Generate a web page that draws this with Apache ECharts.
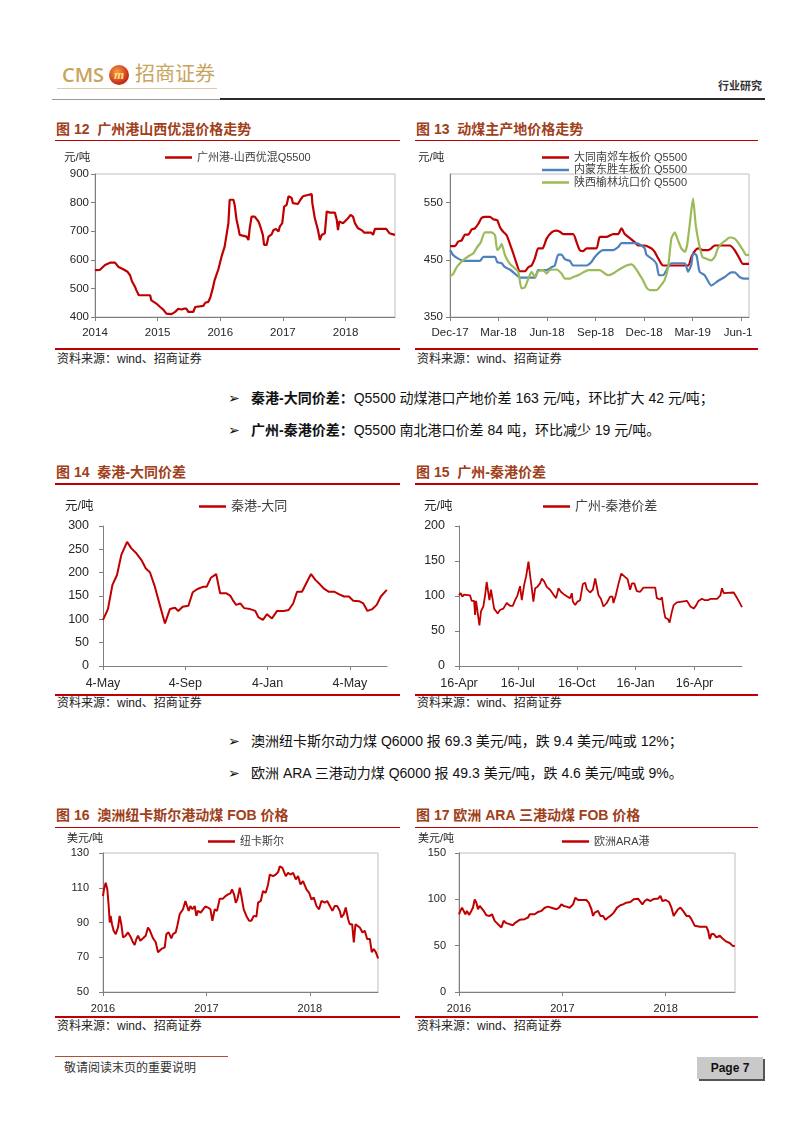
<!DOCTYPE html>
<html><head><meta charset="utf-8">
<script src="https://cdn.jsdelivr.net/npm/echarts@6/dist/echarts.min.js"></script>
<style>
html,body{margin:0;padding:0;background:#fff;}
body{width:802px;height:1133px;position:relative;overflow:hidden;font-family:"Liberation Sans","Noto Sans CJK SC",sans-serif;color:#222;}
.abs{position:absolute;white-space:nowrap;}
.title{position:absolute;font-size:14px;font-weight:bold;color:#A0401A;line-height:18px;white-space:nowrap;}
.rule{position:absolute;height:1.5px;background:#C00000;}
.src{position:absolute;font-size:12px;color:#222;line-height:14px;white-space:nowrap;}
.chart{position:absolute;}
.bullet{position:absolute;font-size:14px;line-height:18px;white-space:nowrap;color:#111;}
.arrow{position:absolute;font-size:14px;line-height:18px;font-family:"DejaVu Sans";color:#111;}
</style></head><body>

<!-- header -->
<div class="abs" style="left:62px;top:62px;font-size:20px;line-height:26px;color:#C9A45C;font-family:'Open Sans';font-weight:600;">CMS</div>
<div class="abs" style="left:109px;top:65px;width:20px;height:20px;border-radius:50%;background:radial-gradient(circle at 40% 35%,#F7A040,#C8301A 65%,#8A1A10);text-align:center;line-height:19px;font-size:13px;font-style:italic;font-weight:bold;color:#FFE08A;font-family:'Liberation Serif';">m</div>
<div class="abs" style="left:135px;top:62px;font-size:20px;line-height:25px;color:#C9A45C;">招商证券</div>
<div class="abs" style="left:57px;top:88px;width:160px;height:1px;background:#DCCBA4;"></div>
<div class="abs" style="left:718px;top:78px;font-size:11px;line-height:16px;color:#333;font-weight:bold;">行业研究</div>
<div class="abs" style="left:52px;top:99px;width:168px;height:1px;background:#9A9A9A;"></div>
<div class="abs" style="left:220px;top:98px;width:545px;height:2px;background:#2A2A2A;"></div>

<!-- chart 12 / 13 frame -->
<div class="title" style="left:56px;top:120px;">图 12&nbsp; 广州港山西优混价格走势</div>
<div class="rule" style="left:55px;top:139.5px;width:345px;"></div>
<div class="title" style="left:416px;top:120px;">图 13&nbsp; 动煤主产地价格走势</div>
<div class="rule" style="left:415px;top:139.5px;width:343px;"></div>
<div id="c12" class="chart" style="left:40px;top:145px;width:370px;height:200px;"></div>
<div class="chart" style="left:410px;top:145px;width:343px;height:200px;overflow:hidden;">
  <div id="c13" style="position:absolute;left:0;top:0;width:380px;height:200px;"></div>
</div>
<div class="rule" style="left:55px;top:348px;width:345px;"></div>
<div class="rule" style="left:415px;top:348px;width:343px;"></div>
<div class="src" style="left:57px;top:352px;">资料来源：wind、招商证券</div>
<div class="src" style="left:417px;top:352px;">资料来源：wind、招商证券</div>

<!-- bullets 1 -->
<div class="arrow" style="left:228px;top:389px;">➢</div>
<div class="bullet" style="left:251px;top:389px;"><b>秦港-大同价差：</b>Q5500 动煤港口产地价差 163 元/吨，环比扩大 42 元/吨；</div>
<div class="arrow" style="left:228px;top:421px;">➢</div>
<div class="bullet" style="left:251px;top:421px;"><b>广州-秦港价差：</b>Q5500 南北港口价差 84 吨，环比减少 19 元/吨。</div>

<!-- chart 14 / 15 -->
<div class="title" style="left:56px;top:463px;">图 14&nbsp; 秦港-大同价差</div>
<div class="rule" style="left:55px;top:483px;width:345px;"></div>
<div class="title" style="left:416px;top:463px;">图 15&nbsp; 广州-秦港价差</div>
<div class="rule" style="left:415px;top:483px;width:343px;"></div>
<div id="c14" class="chart" style="left:40px;top:490px;width:370px;height:203px;"></div>
<div id="c15" class="chart" style="left:410px;top:490px;width:392px;height:203px;"></div>
<div class="rule" style="left:55px;top:694px;width:345px;"></div>
<div class="rule" style="left:415px;top:694px;width:343px;"></div>
<div class="src" style="left:57px;top:696px;">资料来源：wind、招商证券</div>
<div class="src" style="left:417px;top:696px;">资料来源：wind、招商证券</div>

<!-- bullets 2 -->
<div class="arrow" style="left:228px;top:732px;">➢</div>
<div class="bullet" style="left:251px;top:732px;">澳洲纽卡斯尔动力煤 Q6000 报 69.3 美元/吨，跌 9.4 美元/吨或 12%；</div>
<div class="arrow" style="left:228px;top:764px;">➢</div>
<div class="bullet" style="left:251px;top:764px;">欧洲 ARA 三港动力煤 Q6000 报 49.3 美元/吨，跌 4.6 美元/吨或 9%。</div>

<!-- chart 16 / 17 -->
<div class="title" style="left:56px;top:806px;">图 16&nbsp; 澳洲纽卡斯尔港动煤 FOB 价格</div>
<div class="rule" style="left:55px;top:826.5px;width:345px;"></div>
<div class="title" style="left:416px;top:806px;">图 17 欧洲 ARA 三港动煤 FOB 价格</div>
<div class="rule" style="left:415px;top:826.5px;width:343px;"></div>
<div id="c16" class="chart" style="left:40px;top:830px;width:370px;height:184px;"></div>
<div id="c17" class="chart" style="left:410px;top:830px;width:392px;height:184px;"></div>
<div class="rule" style="left:55px;top:1016px;width:345px;"></div>
<div class="rule" style="left:415px;top:1016px;width:343px;"></div>
<div class="src" style="left:57px;top:1019px;">资料来源：wind、招商证券</div>
<div class="src" style="left:417px;top:1019px;">资料来源：wind、招商证券</div>

<!-- footer -->
<div class="abs" style="left:55px;top:1056px;width:173px;height:1px;background:#B0503A;"></div>
<div class="abs" style="left:64px;top:1061px;font-size:12px;line-height:14px;color:#333;">敬请阅读末页的重要说明</div>
<div class="abs" style="left:697px;top:1057px;width:66px;height:22px;background:#C9C9C9;box-shadow:2px 2px 0 #555;text-align:center;line-height:22px;font-size:12px;font-weight:bold;color:#111;">Page 7</div>

<script>
// ---------- DATA ----------
// Chart 12: 广州港-山西优混Q5500 (x = decimal year)
const c12Name = '广州港-山西优混Q5500';
const c12Ticks = ['2014','2015','2016','2017','2018'];
const c12X = [2014.00,2014.08,2014.16,2014.24,2014.32,2014.37,2014.45,2014.52,2014.56,2014.59,2014.64,2014.66,2014.70,2014.88,2014.90,2014.98,2015.04,2015.09,2015.14,2015.22,2015.28,2015.33,2015.38,2015.42,2015.46,2015.49,2015.57,2015.60,2015.73,2015.76,2015.81,2015.84,2015.88,2015.91,2015.97,2016.02,2016.07,2016.10,2016.13,2016.15,2016.21,2016.23,2016.26,2016.29,2016.31,2016.42,2016.45,2016.47,2016.50,2016.55,2016.61,2016.64,2016.68,2016.70,2016.74,2016.77,2016.82,2016.85,2016.89,2016.93,2016.95,2016.99,2017.02,2017.06,2017.09,2017.14,2017.16,2017.24,2017.28,2017.32,2017.35,2017.46,2017.47,2017.51,2017.56,2017.59,2017.62,2017.67,2017.70,2017.72,2017.75,2017.83,2017.86,2017.88,2017.90,2017.96,2017.99,2018.04,2018.08,2018.12,2018.15,2018.20,2018.27,2018.30,2018.41,2018.44,2018.47,2018.65,2018.70,2018.76,2018.79];
const c12Y = [564,565,582,590,590,576,567,558,546,525,505,494,476,476,458,447,435,426,412,410,418,429,426,429,429,418,418,435,439,450,453,467,500,529,567,611,646,687,728,810,810,792,740,710,687,681,669,710,751,751,734,716,687,652,652,681,689,704,708,699,716,728,786,792,822,816,798,795,810,822,827,830,798,745,704,669,687,693,769,775,765,765,740,704,734,728,734,745,757,751,728,710,702,695,695,687,708,708,693,689,687];

// Chart 13: three origin prices (x = months since Dec-17)
const c13Ticks = ['Dec-17','Mar-18','Jun-18','Sep-18','Dec-18','Mar-19','Jun-19'];
const c13Names = ['大同南郊车板价 Q5500','内蒙东胜车板价 Q5500','陕西榆林坑口价 Q5500'];
const c13RedX = [0,0.31,0.51,0.72,0.93,1.13,1.34,1.54,1.75,1.95,2.16,2.47,2.67,2.92,3.09,3.29,3.50,3.70,3.91,4.12,4.32,4.63,4.84,5.04,5.25,5.45,5.72,5.97,6.28,6.58,6.79,6.99,7.61,7.82,8.02,8.23,8.44,9.05,9.26,9.67,10.08,10.39,10.60,10.80,11.11,11.42,11.63,12.04,12.24,12.45,12.65,12.86,13.17,14.71,14.92,15.12,15.33,15.64,15.95,16.15,16.36,17.28,17.59,17.90,18.10,18.48];
const c13RedY = [474,474,482,484,494,494,503,505,513,523,525,525,521,519,507,499,493,478,461,443,430,430,437,440,453,470,470,487,498,501,499,495,495,481,467,465,470,470,490,490,495,495,505,495,488,481,475,475,473,470,464,453,440,440,455,465,470,467,467,470,475,475,467,452,443,443];
const c13BlueX = [0,0.21,0.51,0.82,1.85,2.06,2.78,2.92,3.19,3.40,3.70,4.12,4.32,5.25,5.45,5.97,6.28,6.48,6.69,6.89,7.10,7.41,7.61,8.44,8.74,8.95,9.26,9.47,10.08,10.39,10.60,11.52,11.83,12.04,12.14,12.55,12.76,12.92,13.17,13.48,13.68,14.51,14.71,14.92,15.02,15.23,15.43,15.74,16.15,16.56,16.98,17.39,17.59,17.90,18.21,18.48];
const c13BlueY = [467,458,452,448,448,455,455,446,444,437,433,423,419,419,432,432,437,440,459,459,451,448,440,440,446,455,464,467,467,472,479,479,475,470,459,450,443,423,423,437,444,444,429,442,461,458,429,423,405,413,420,428,428,420,417,417];
const c13GreenX = [0,0.21,0.41,0.62,0.93,1.23,1.44,1.65,1.89,2.16,2.57,2.78,2.92,3.09,3.19,3.40,3.70,4.01,4.22,4.42,4.63,4.84,5.04,5.25,5.45,5.76,5.97,6.17,6.58,6.89,7.10,7.41,7.61,7.92,8.23,8.54,9.26,9.57,9.77,10.08,10.39,10.70,10.91,11.21,11.42,11.63,11.93,12.14,12.35,12.76,13.00,13.27,13.48,13.68,13.89,14.09,14.30,14.51,14.65,14.81,15.02,15.19,15.39,15.60,15.84,16.15,16.36,16.56,16.77,17.04,17.28,17.59,17.86,18.11,18.31,18.48];
const c13GreenY = [421,426,437,444,452,458,461,471,480,498,498,493,467,472,478,458,443,435,429,400,402,417,429,420,430,432,426,432,433,426,417,417,420,423,428,432,432,426,423,426,432,437,440,442,437,428,414,402,397,397,404,415,437,487,498,484,470,464,475,510,557,510,478,455,452,449,455,470,478,484,489,487,478,467,458,459];

// Chart 14: 秦港-大同 (x = months since 4-May-2018)
const c14Name = '秦港-大同';
const c14Ticks = ['4-May','4-Sep','4-Jan','4-May'];
const c14X = [0,0.24,0.46,0.68,0.89,1.17,1.38,1.63,1.87,2.08,2.28,2.52,2.76,3.01,3.25,3.50,3.66,3.87,4.15,4.36,4.59,4.88,5.04,5.24,5.50,5.69,5.98,6.18,6.34,6.47,6.67,6.86,7.15,7.40,7.56,7.77,7.97,8.21,8.46,8.78,9.02,9.24,9.43,9.67,9.92,10.11,10.33,10.54,10.73,10.98,11.25,11.46,11.71,11.95,12.16,12.44,12.65,12.85,13.09,13.30,13.50,13.79];
const c14Y = [99,122,174,195,238,266,252,241,227,209,201,170,131,91,122,125,118,127,129,158,165,170,170,189,197,156,156,151,139,131,134,124,122,118,104,99,111,102,118,118,120,134,159,159,181,197,184,175,166,159,159,154,149,149,140,139,134,118,122,131,149,163];

// Chart 15: 广州-秦港价差 (x = months since 16-Apr-2018)
const c15Name = '广州-秦港价差';
const c15Ticks = ['16-Apr','16-Jul','16-Oct','16-Jan','16-Apr'];
const c15X = [0,0.09,0.17,0.26,0.36,0.56,0.65,0.77,0.82,0.87,0.95,1.04,1.12,1.24,1.33,1.41,1.50,1.55,1.63,1.72,1.79,1.89,1.97,2.09,2.26,2.43,2.60,2.74,2.86,2.98,3.11,3.20,3.32,3.42,3.54,3.62,3.71,3.79,3.88,3.99,4.13,4.22,4.34,4.47,4.64,4.81,4.95,5.07,5.19,5.36,5.53,5.66,5.75,5.80,5.92,6.04,6.17,6.31,6.43,6.51,6.68,6.82,6.94,7.02,7.11,7.23,7.36,7.53,7.70,7.82,7.87,7.99,8.13,8.27,8.47,8.59,8.72,8.81,8.93,9.06,9.23,9.40,10.00,10.08,10.25,10.34,10.42,10.51,10.65,10.73,10.85,10.94,11.10,11.36,11.62,11.79,11.96,12.09,12.20,12.38,12.52,12.69,12.81,13.15,13.32,13.40,13.49,14.00,14.13,14.25,14.34,14.42];
const c15Y = [101,104,99,102,101,101,93,93,73,93,93,58,78,85,101,120,120,94,109,109,82,81,75,80,82,90,86,86,94,101,114,94,116,128,149,130,111,92,111,113,118,125,121,113,109,102,97,111,106,102,99,97,104,92,87,92,94,117,119,110,105,109,125,126,101,96,85,90,99,99,90,101,118,132,127,124,109,118,118,107,106,112,112,97,95,98,82,69,67,62,78,87,91,92,93,85,82,87,93,96,94,94,96,96,101,111,104,105,99,93,92,84];

// Chart 16: 纽卡斯尔 (x = decimal year)
const c16Name = '纽卡斯尔';
const c16Ticks = ['2016','2017','2018'];
const c16X = [2016.000,2016.010,2016.026,2016.042,2016.055,2016.065,2016.074,2016.087,2016.103,2016.123,2016.145,2016.161,2016.177,2016.194,2016.219,2016.242,2016.265,2016.290,2016.306,2016.323,2016.339,2016.361,2016.387,2016.413,2016.435,2016.452,2016.484,2016.510,2016.532,2016.548,2016.565,2016.581,2016.597,2016.613,2016.635,2016.661,2016.677,2016.703,2016.719,2016.742,2016.758,2016.774,2016.797,2016.813,2016.829,2016.845,2016.865,2016.887,2016.903,2016.919,2016.945,2016.968,2016.990,2017.016,2017.039,2017.058,2017.081,2017.103,2017.129,2017.161,2017.184,2017.210,2017.232,2017.248,2017.268,2017.284,2017.300,2017.323,2017.339,2017.361,2017.387,2017.413,2017.435,2017.458,2017.484,2017.500,2017.526,2017.548,2017.574,2017.597,2017.613,2017.645,2017.671,2017.694,2017.710,2017.735,2017.752,2017.768,2017.790,2017.813,2017.839,2017.865,2017.887,2017.910,2017.935,2017.968,2017.994,2018.016,2018.039,2018.065,2018.090,2018.113,2018.145,2018.168,2018.194,2018.219,2018.242,2018.265,2018.290,2018.306,2018.329,2018.348,2018.371,2018.387,2018.410,2018.426,2018.442,2018.461,2018.484,2018.510,2018.532,2018.555,2018.581,2018.600,2018.619,2018.639,2018.661];
const c16Y = [105.2,109.4,112.9,109,99.5,90,93.8,89,85.2,83.3,87.1,93.8,89,81.4,82.4,84.3,82,78.6,77,80.5,82.4,79.5,80.9,82.4,87.1,85.6,80.9,78.6,72.9,71.9,74.8,73.8,75.7,83.3,84.3,80.9,83.3,84.3,88.1,94.8,95.7,97.6,102.4,99.5,96.7,99.5,97.6,99.5,93.8,96.7,95.7,97.6,99.2,98.6,97.6,91,97.6,96.7,103.7,103.7,105.2,106.2,106.8,109,106.2,101.4,103.3,110,105.2,97.6,93.8,91,91,93.8,93.4,101.4,102.4,108.1,107.1,111.9,117.6,116.7,117.6,119,122.4,121.4,121.8,116.7,118.6,117.6,118.6,114.8,116.7,111.9,113.8,109,107.1,103.3,104.3,99.5,97.6,102.4,101.4,102.4,99.5,96.7,99.5,99.5,96.7,92.9,94.8,98.6,91.9,89,89,78.6,89,89,87.1,84.3,85.2,80.5,80.5,72.9,74.8,72.9,69.3];

// Chart 17: 欧洲ARA港 (x = decimal year)
const c17Name = '欧洲ARA港';
const c17Ticks = ['2016','2017','2018'];
const c17X = [2016.000,2016.013,2016.029,2016.045,2016.061,2016.077,2016.097,2016.119,2016.135,2016.152,2016.168,2016.184,2016.200,2016.216,2016.239,2016.265,2016.297,2016.319,2016.345,2016.377,2016.410,2016.432,2016.458,2016.490,2016.523,2016.539,2016.555,2016.587,2016.635,2016.668,2016.684,2016.700,2016.732,2016.765,2016.797,2016.829,2016.861,2016.894,2016.910,2016.942,2016.968,2016.990,2017.013,2017.039,2017.071,2017.103,2017.126,2017.152,2017.184,2017.232,2017.255,2017.281,2017.297,2017.313,2017.329,2017.345,2017.368,2017.394,2017.416,2017.442,2017.474,2017.497,2017.529,2017.561,2017.587,2017.619,2017.658,2017.690,2017.732,2017.748,2017.774,2017.797,2017.819,2017.852,2017.877,2017.903,2017.926,2017.948,2017.968,2018.000,2018.032,2018.055,2018.077,2018.097,2018.119,2018.142,2018.168,2018.200,2018.226,2018.248,2018.281,2018.329,2018.394,2018.410,2018.426,2018.442,2018.465,2018.490,2018.523,2018.555,2018.587,2018.619,2018.645,2018.668];
const c17Y = [83.9,87.5,91,91,83.9,87.5,83.2,87.5,91,100,96.4,89.3,92.9,94.6,87.5,82.9,82.1,83.9,76.8,73.2,69.6,76.8,74.3,73.2,72.1,74.3,75.7,77.9,78.6,80.4,83.9,82.1,83.9,86.4,87.5,91,92.1,91,92.9,89.3,91,94.6,92.9,92.1,91,94.6,101.8,99.3,99.3,99.3,96.4,89.3,82.1,85.7,83.9,87.5,82.1,82.1,77.9,80.4,82.9,85.7,91,93.6,94.6,96.4,97.1,100,100.7,98.9,94.6,98.2,100,98.2,100,100.7,100.7,103.6,98.2,99.3,97.1,91,82.1,85.7,89.3,91,87.5,82.1,82.1,78.6,71.4,70.4,70.4,66.1,57.1,62.5,62.5,58.9,60.7,57.1,54.3,52.9,50,49.3];

// ---------- BUILD ----------
const FONT = '"Liberation Sans","Noto Sans CJK SC",sans-serif';
const AX = '#7F7F7F';
const LBL = '#262626';
const zip = (xs, ys) => xs.map((x, i) => [x, ys[i]]);

function makeChart(id, c) {
  const chart = echarts.init(document.getElementById(id), null, {renderer: 'canvas'});
  const axisCommon = {
    type: 'value',
    axisLine: {show: true, onZero: false, lineStyle: {color: AX, width: 1}},
    axisTick: {show: true, length: 4, lineStyle: {color: AX}},
    splitLine: {show: false}
  };
  chart.setOption({
    animation: false,
    textStyle: {fontFamily: FONT},
    grid: Object.assign({show: c.border, borderColor: '#BFBFBF', borderWidth: 1, containLabel: false}, c.grid),
    legend: {
      left: c.legend.left, top: c.legend.top, orient: c.legend.orient || 'horizontal',
      padding: 0, itemGap: c.legend.gap || 10, icon: 'rect', itemWidth: 27, itemHeight: 2.5,
      textStyle: {fontSize: c.legend.fontSize, color: '#404040', fontFamily: FONT},
      selectedMode: false
    },
    graphic: [{type: 'text', left: c.unit.left, top: c.unit.top,
      style: {text: c.unit.text, fontSize: c.unit.fontSize, fill: LBL, fontFamily: FONT}}],
    xAxis: Object.assign({}, axisCommon, {
      min: c.x.min, max: c.x.max, interval: c.x.interval,
      axisLabel: {fontSize: c.fontSize, color: LBL, margin: c.x.margin, showMaxLabel: false,
        formatter: c.x.formatter}
    }),
    yAxis: Object.assign({}, axisCommon, {
      min: c.y.min, max: c.y.max, interval: c.y.interval,
      axisLabel: {fontSize: c.fontSize, color: LBL, margin: c.y.margin, showMaxLabel: c.y.showMax !== false}
    }),
    series: c.series.map(s => ({
      type: 'line', name: s.name, data: s.data, showSymbol: false, symbol: 'none',
      smooth: s.smooth || false, lineStyle: {width: s.width, color: s.color}, itemStyle: {color: s.color},
      clip: true
    }))
  });
}

const RED = '#C00000';

makeChart('c12', {
  border: true, fontSize: 11.5,
  grid: {left: 55, top: 29, width: 300, height: 143},
  legend: {left: 125, top: 7, fontSize: 11},
  unit: {text: '元/吨', left: 24, top: 7, fontSize: 11.5},
  x: {min: 2014, max: 2018.79, interval: 1, margin: 10, formatter: v => c12Ticks[Math.round(v - 2014)] || ''},
  y: {min: 400, max: 900, interval: 100, margin: 6},
  series: [{name: c12Name, data: zip(c12X, c12Y), color: RED, width: 2.2}]
});

makeChart('c13', {
  border: true, fontSize: 11.5,
  grid: {left: 40, top: 29, width: 299, height: 143},
  legend: {left: 132, top: 7, fontSize: 11, orient: 'vertical', gap: 1.5},
  unit: {text: '元/吨', left: 8, top: 7, fontSize: 11.5},
  x: {min: 0, max: 18.48, interval: 3, margin: 10, formatter: v => c13Ticks[Math.round(v / 3)] || ''},
  y: {min: 350, max: 600, interval: 100, margin: 7, showMax: false},
  series: [
    {name: c13Names[0], data: zip(c13RedX, c13RedY), color: RED, width: 2.2, smooth: 0.2},
    {name: c13Names[1], data: zip(c13BlueX, c13BlueY), color: '#4F81BD', width: 2.2, smooth: 0.2},
    {name: c13Names[2], data: zip(c13GreenX, c13GreenY), color: '#9BBB59', width: 2.2, smooth: 0.2}
  ]
});

makeChart('c14', {
  border: false, fontSize: 12.5,
  grid: {left: 63, top: 36, width: 284, height: 140},
  legend: {left: 159, top: 10, fontSize: 13},
  unit: {text: '元/吨', left: 25, top: 10, fontSize: 12.5},
  x: {min: 0, max: 13.8, interval: 4, margin: 11, formatter: v => c14Ticks[Math.round(v / 4)] || ''},
  y: {min: 0, max: 300, interval: 50, margin: 14},
  series: [{name: c14Name, data: zip(c14X, c14Y), color: RED, width: 2}]
});

makeChart('c15', {
  border: false, fontSize: 12.5,
  grid: {left: 49, top: 36, width: 283, height: 140},
  legend: {left: 133, top: 10, fontSize: 13},
  unit: {text: '元/吨', left: 14, top: 10, fontSize: 12.5},
  x: {min: 0, max: 14.42, interval: 3, margin: 11, formatter: v => c15Ticks[Math.round(v / 3)] || ''},
  y: {min: 0, max: 200, interval: 50, margin: 14},
  series: [{name: c15Name, data: zip(c15X, c15Y), color: RED, width: 1.8}]
});

makeChart('c16', {
  border: true, fontSize: 11,
  grid: {left: 63, top: 23, width: 275, height: 140},
  legend: {left: 168, top: 6, fontSize: 11},
  unit: {text: '美元/吨', left: 27, top: 3, fontSize: 11},
  x: {min: 2016, max: 2018.66, interval: 1, margin: 11, formatter: v => c16Ticks[Math.round(v - 2016)] || ''},
  y: {min: 50, max: 130, interval: 20, margin: 14},
  series: [{name: c16Name, data: zip(c16X, c16Y), color: RED, width: 2}]
});

makeChart('c17', {
  border: true, fontSize: 11,
  grid: {left: 49, top: 23, width: 276, height: 140},
  legend: {left: 152, top: 6, fontSize: 11},
  unit: {text: '美元/吨', left: 8, top: 3, fontSize: 11},
  x: {min: 2016, max: 2018.67, interval: 1, margin: 11, formatter: v => c17Ticks[Math.round(v - 2016)] || ''},
  y: {min: 0, max: 150, interval: 50, margin: 13},
  series: [{name: c17Name, data: zip(c17X, c17Y), color: RED, width: 2}]
});
</script>
</body></html>
